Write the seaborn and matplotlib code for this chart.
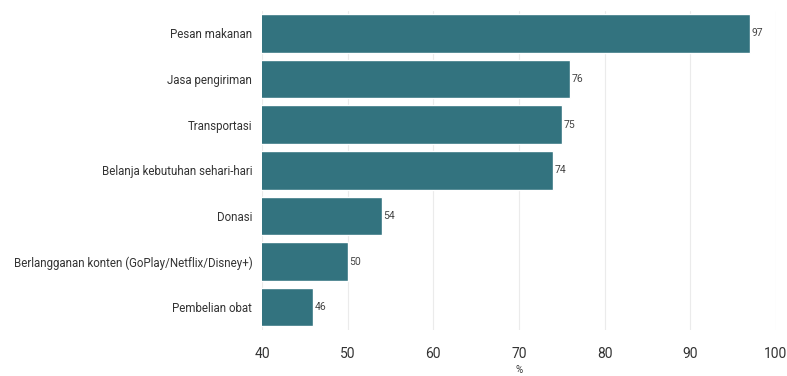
import matplotlib

matplotlib.use("Agg")
import matplotlib.pyplot as plt
import seaborn as sns
import pandas as pd

# --- Data ---
categories = [
    "Pesan makanan",
    "Jasa pengiriman",
    "Transportasi",
    "Belanja kebutuhan sehari-hari",
    "Donasi",
    "Berlangganan konten (GoPlay/Netflix/Disney+)",
    "Pembelian obat",
]
values = [97, 76, 75, 74, 54, 50, 46]
x_ticks = [40, 50, 60, 70, 80, 90, 100]

BAR_COLOR = "#33737f"

sns.set_theme(style="whitegrid")
plt.rcParams["font.family"] = ["Roboto", "DejaVu Sans"]

df = pd.DataFrame({"kategori": categories, "persen": values})

fig = plt.figure(figsize=(7.87, 3.76), dpi=100)
ax = fig.add_axes([0.333, 0.122, 0.653, 0.85])

sns.barplot(data=df, x="persen", y="kategori", color=BAR_COLOR, width=0.84,
            saturation=1, ax=ax, orient="h")

for cont in ax.containers:
    ax.bar_label(cont, labels=[str(v) for v in values], padding=1,
                 fontsize=7.5, color="#444444")

ax.set_xlim(40, 100)
ax.set_xticks(x_ticks)
ax.set_ylim(6.5, -0.5)
ax.set_ylabel("")
ax.set_xlabel("%", fontsize=7, color="#333333", labelpad=3)

ax.grid(axis="x", color="#ebebeb", linewidth=0.8)
ax.grid(axis="y", visible=False)
for s in ax.spines.values():
    s.set_visible(False)

ax.tick_params(axis="y", labelsize=8.3, colors="#333333", length=3, width=0.6,
               color="#dddddd", pad=4)
ax.tick_params(axis="x", labelsize=10, colors="#333333", length=0, pad=12)

fig.savefig("out.png", dpi=100)
